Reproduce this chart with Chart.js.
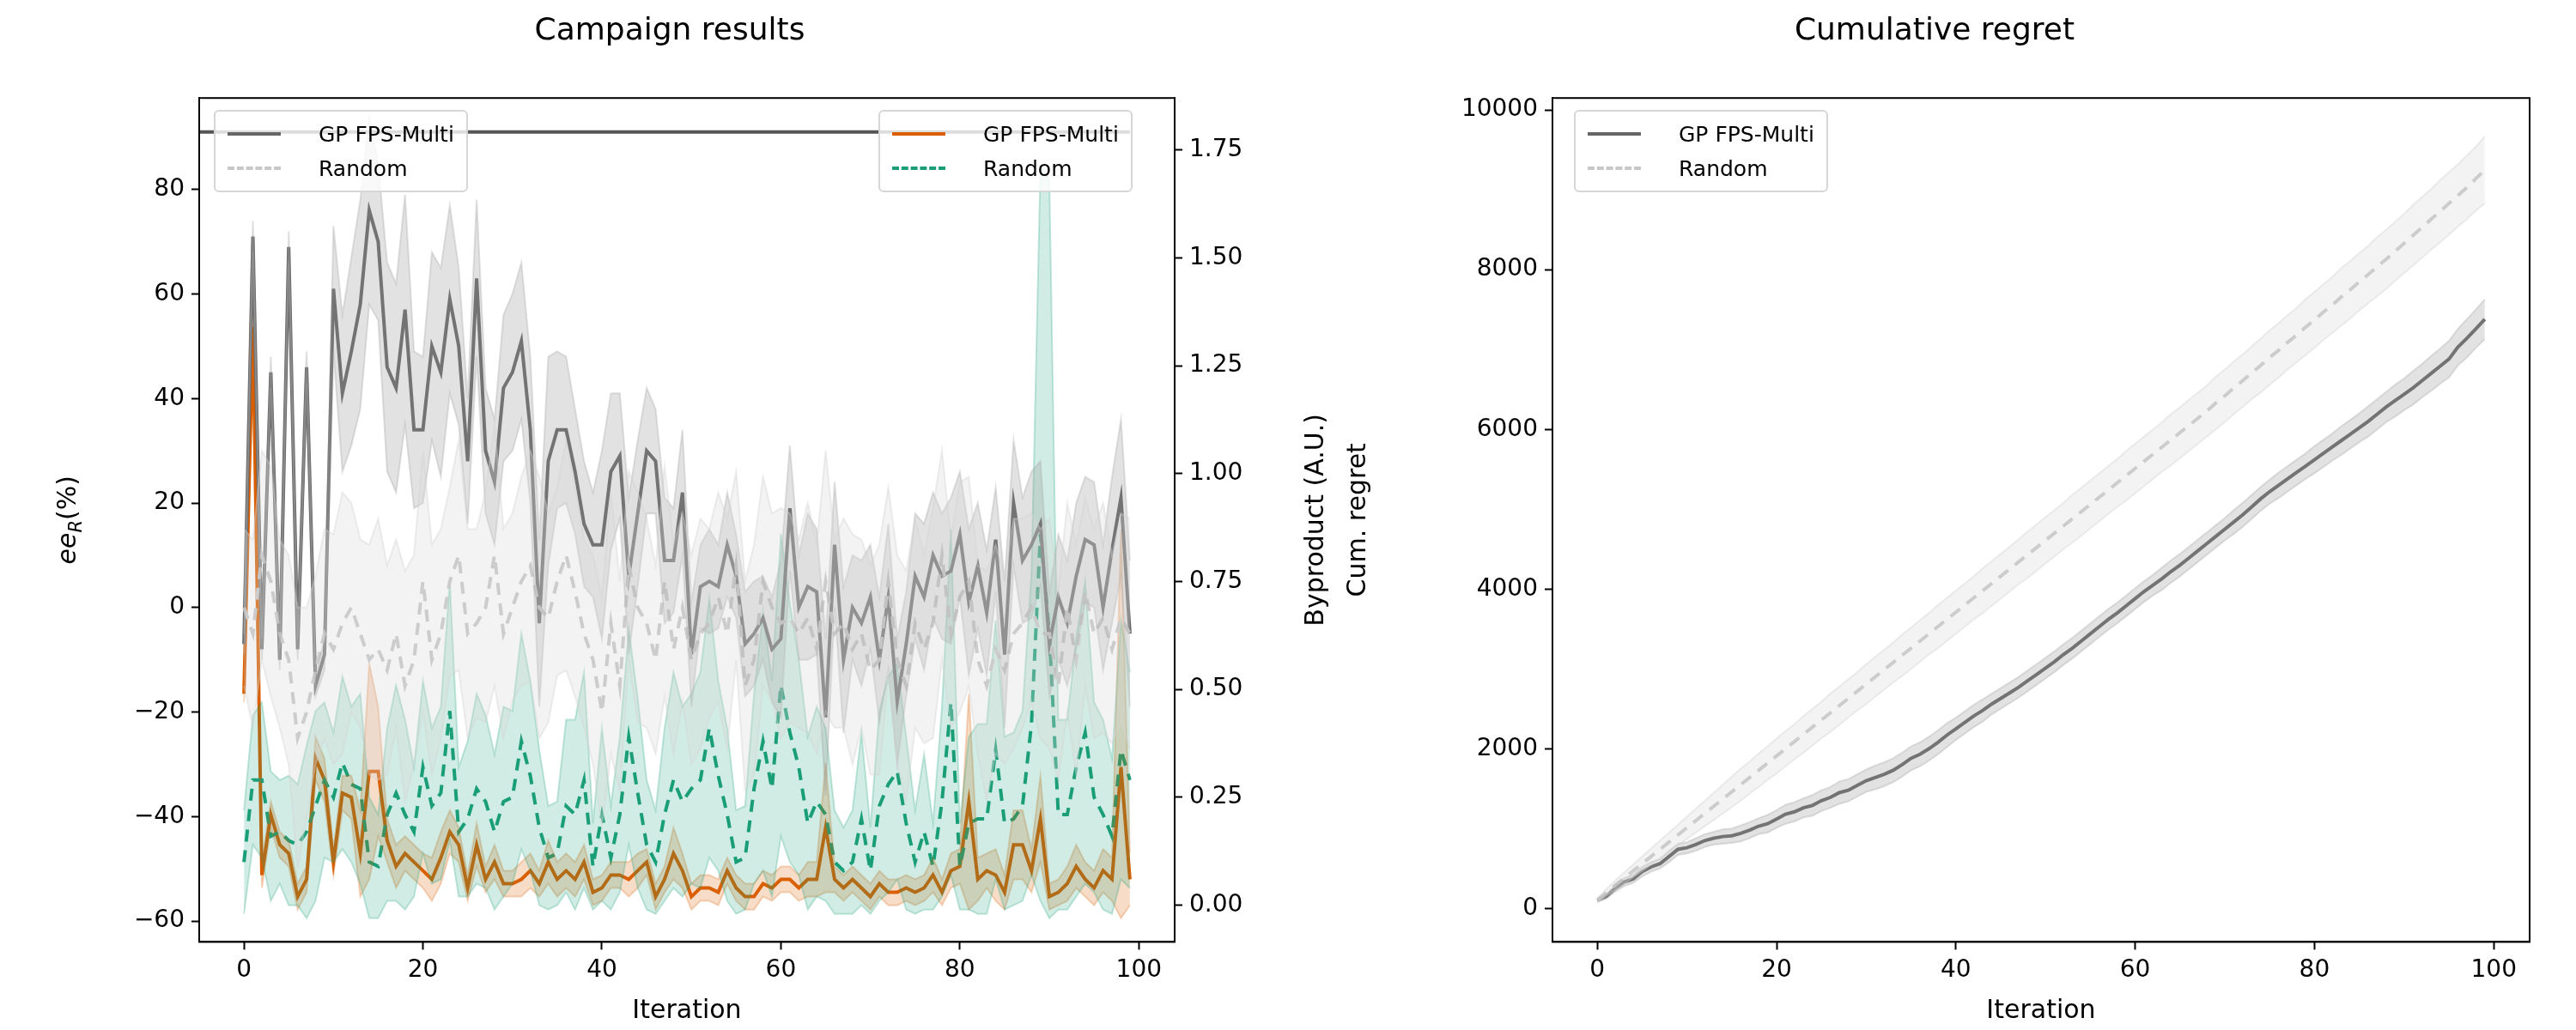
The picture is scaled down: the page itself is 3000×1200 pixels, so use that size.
<!DOCTYPE html>
<html lang="en">
<head>
<meta charset="UTF-8">
<title>Campaign results</title>
<script src="https://cdn.jsdelivr.net/npm/chart.js@4.4.1/dist/chart.umd.min.js"></script>
<style>
  body { margin: 0; background: #fff; font-family: "DejaVu Sans", sans-serif; }
  .wrap { position: relative; width: 3000px; height: 1200px; }
  .box { position: absolute; top: 0; height: 1200px; }
  .box canvas { display: block; }
  .legend {
    position: absolute; background: rgba(255,255,255,0.8); border: 2px solid #d6d6d6;
    border-radius: 6px; padding: 6px 14px; font-size: 25px; color: #000; z-index: 5;
  }
  .legend div { display: flex; align-items: center; height: 40px; }
  .legend span.h { display: inline-block; width: 62px; margin-right: 44px; border-top: 4px solid; }
</style>
</head>
<body>
<div class="wrap">
  <div class="box" style="left:0;width:1560px"><canvas id="campaign" width="1560" height="1200" style="width:1560px;height:1200px"></canvas></div>
  <div class="box" style="left:1560px;width:1440px"><canvas id="regret" width="1440" height="1200" style="width:1440px;height:1200px"></canvas></div>

  <div class="legend" style="left:249px;top:128px">
    <div><span class="h" style="border-color:#666"></span>GP FPS-Multi</div>
    <div><span class="h" style="border-color:#c8c8c8;border-top-style:dashed"></span>Random</div>
  </div>
  <div class="legend" style="left:1023px;top:128px">
    <div><span class="h" style="border-color:#d95f02"></span>GP FPS-Multi</div>
    <div><span class="h" style="border-color:#1b9e77;border-top-style:dashed"></span>Random</div>
  </div>
  <div class="legend" style="left:1833px;top:128px">
    <div><span class="h" style="border-color:#666"></span>GP FPS-Multi</div>
    <div><span class="h" style="border-color:#c8c8c8;border-top-style:dashed"></span>Random</div>
  </div>
</div>
<script>
// ee_R (%) per iteration, left axis
const eeGp = [-7,71,-8,45,-10,69,-8,46,-15,-9, 61,41,49,58,76,70,46,42,57,34,
  34,50,45,59,50,28,63,30,24,42, 45,51,34,-3,28,34,34,26,16,12,
  12,26,29,6,18,30,28,9,9,22, -9,4,5,4,12,6,-7,-5,-2,-8,
  -6,19,0,4,3,-21,12,-10,0,-3, 2,-10,2,-18,-7,6,2,10,6,7,
  14,1,8,-1,13,-9,20,9,12,16, -7,2,-3,6,13,12,0,11,21,-5];
const eeGpBand = [2,3,2,3,2,3,2,3,2,3, 12,15,18,20,18,15,20,20,22,15,
  14,18,20,18,15,12,15,12,12,14, 15,15,14,16,20,15,14,12,12,10,
  18,15,12,15,14,12,10,12,10,12, 10,8,10,8,10,8,10,10,8,10,
  15,12,10,14,12,15,12,14,10,12, 10,12,14,12,10,12,14,12,12,14,
  12,14,12,12,10,14,12,12,14,12, 10,12,12,14,12,12,12,14,15,14];
const eeRandom = [0,-5,10,5,-5,-10,-25,-20,-12,-5, -8,-3,0,-5,-10,-8,-12,-5,-15,-10,
  5,-10,-5,5,10,-5,-3,0,10,-5, 0,5,8,0,-2,5,10,3,-5,-10,
  -20,-3,-15,8,0,-3,-10,5,-8,0, -10,-5,-3,2,-5,8,-15,-10,5,0,
  -3,-2,-5,-2,-8,5,-5,-3,-8,-5, -12,-10,5,-10,-15,-3,-8,-3,10,-5,
  2,5,-10,-15,-8,-12,-5,-3,0,-5, -5,-15,0,-10,3,-5,-2,-8,-2,-5];
const eeRandomBand = [15,18,20,22,18,20,25,20,18,20, 22,25,20,18,22,25,20,18,22,20,
  25,22,20,18,22,20,18,22,25,20, 18,20,22,25,20,18,22,20,18,20,
  22,25,20,18,22,20,18,22,20,18, 20,22,18,20,22,18,20,22,20,18,
  22,20,18,22,20,25,18,20,22,18, 20,22,18,20,22,20,18,22,20,18,
  22,20,18,22,20,18,22,20,18,20, 22,18,20,22,18,20,22,18,20,22];
// byproduct (A.U.) per iteration, right axis
const byGp = [0.49,1.34,0.07,0.21,0.14,0.12,0.02,0.06,0.34,0.29, 0.10,0.26,0.25,0.12,0.31,0.31,0.15,0.09,0.12,0.10,
  0.08,0.06,0.11,0.17,0.14,0.04,0.14,0.06,0.10,0.05, 0.05,0.06,0.08,0.05,0.10,0.06,0.08,0.06,0.10,0.03,
  0.04,0.07,0.07,0.06,0.08,0.10,0.02,0.06,0.12,0.08, 0.02,0.04,0.04,0.03,0.08,0.04,0.02,0.02,0.05,0.04,
  0.06,0.06,0.04,0.06,0.06,0.18,0.06,0.04,0.06,0.04, 0.02,0.05,0.03,0.03,0.04,0.03,0.04,0.07,0.03,0.08,
  0.09,0.24,0.06,0.08,0.07,0.03,0.14,0.14,0.08,0.20, 0.02,0.03,0.05,0.09,0.06,0.04,0.08,0.06,0.32,0.06];
const byGpBand = [0.02,0.05,0.03,0.03,0.03,0.03,0.03,0.03,0.05,0.05, 0.03,0.04,0.05,0.10,0.25,0.15,0.05,0.05,0.04,0.04,
  0.04,0.05,0.06,0.05,0.04,0.03,0.05,0.03,0.04,0.03, 0.03,0.04,0.04,0.03,0.05,0.04,0.04,0.04,0.04,0.03,
  0.03,0.03,0.03,0.04,0.04,0.03,0.03,0.03,0.06,0.04, 0.03,0.03,0.03,0.03,0.03,0.03,0.03,0.03,0.03,0.03,
  0.03,0.03,0.03,0.04,0.04,0.15,0.03,0.03,0.03,0.03, 0.03,0.03,0.03,0.03,0.03,0.03,0.03,0.04,0.03,0.04,
  0.04,0.25,0.05,0.04,0.06,0.04,0.08,0.08,0.05,0.10, 0.03,0.03,0.04,0.05,0.04,0.04,0.05,0.05,0.55,0.06];
const byRandom = [0.10,0.29,0.29,0.16,0.17,0.15,0.14,0.17,0.23,0.29, 0.25,0.33,0.28,0.27,0.10,0.09,0.21,0.26,0.21,0.17,
  0.32,0.23,0.26,0.45,0.17,0.20,0.27,0.24,0.17,0.24, 0.25,0.38,0.30,0.18,0.11,0.12,0.23,0.21,0.29,0.09,
  0.21,0.11,0.21,0.39,0.26,0.14,0.10,0.21,0.29,0.24, 0.27,0.29,0.41,0.30,0.21,0.10,0.11,0.27,0.38,0.27,
  0.51,0.40,0.32,0.19,0.24,0.21,0.10,0.08,0.10,0.20, 0.08,0.23,0.28,0.31,0.19,0.10,0.17,0.09,0.24,0.47,
  0.09,0.19,0.20,0.20,0.36,0.19,0.20,0.23,0.42,0.86, 0.63,0.21,0.21,0.32,0.40,0.25,0.21,0.16,0.36,0.29];
const byRandomBand = [0.12,0.15,0.18,0.15,0.12,0.15,0.14,0.20,0.22,0.18, 0.15,0.20,0.18,0.22,0.15,0.12,0.20,0.25,0.22,0.15,
  0.20,0.18,0.20,0.30,0.15,0.18,0.22,0.20,0.18,0.22, 0.20,0.25,0.22,0.18,0.12,0.12,0.20,0.22,0.25,0.10,
  0.20,0.12,0.18,0.25,0.22,0.15,0.12,0.20,0.25,0.22, 0.22,0.25,0.30,0.22,0.20,0.12,0.12,0.22,0.30,0.25,
  0.35,0.30,0.25,0.20,0.22,0.20,0.12,0.10,0.12,0.20, 0.10,0.22,0.25,0.25,0.20,0.12,0.18,0.10,0.22,0.40,
  0.10,0.20,0.22,0.22,0.30,0.20,0.20,0.22,0.35,0.85, 1.05,0.22,0.22,0.30,0.35,0.22,0.22,0.18,0.30,0.25];
// cumulative regret
const cumGp = [100,150,250,330,370,460,520,560,650,740, 760,800,850,880,900,910,940,980,1030,1060,
  1120,1180,1210,1260,1290,1350,1390,1450,1480,1540, 1600,1640,1680,1730,1800,1880,1930,2000,2080,2170,
  2250,2330,2410,2480,2560,2630,2700,2770,2850,2930, 3010,3090,3180,3260,3350,3440,3530,3620,3700,3790,
  3880,3970,4050,4130,4220,4300,4390,4480,4570,4660, 4750,4840,4930,5030,5130,5220,5300,5380,5460,5540,
  5620,5700,5780,5860,5940,6020,6100,6190,6280,6360, 6440,6520,6610,6700,6790,6880,7030,7140,7260,7380];
const cumGpBand = [20,30,40,50,50,60,60,60,70,70, 70,80,80,80,90,90,100,100,100,110,
  110,120,120,120,130,130,130,140,140,140, 140,150,150,150,150,150,150,150,150,150,
  140,140,140,140,130,130,130,130,130,130, 130,130,130,130,130,130,130,130,130,130,
  130,130,130,140,140,140,140,140,140,140, 140,150,150,150,150,150,160,160,160,160,
  170,170,170,180,180,180,190,190,190,200, 200,210,210,220,220,230,230,240,240,250];
const cumRandom = [100,200,290,380,470,560,650,740,830,920, 1010,1100,1190,1280,1370,1460,1550,1640,1730,1820,
  1910,2000,2090,2180,2270,2360,2450,2540,2630,2720, 2810,2900,2990,3080,3170,3260,3350,3440,3530,3620,
  3710,3800,3890,3980,4070,4160,4250,4340,4430,4520, 4610,4700,4790,4880,4970,5060,5150,5240,5330,5420,
  5510,5600,5690,5780,5870,5960,6050,6140,6230,6330, 6420,6520,6610,6710,6800,6900,6990,7090,7180,7280,
  7370,7470,7560,7660,7750,7850,7940,8040,8130,8230, 8330,8430,8530,8630,8730,8830,8930,9030,9140,9250];
const cumRandomBand = [30,40,60,70,80,90,100,110,120,130, 140,150,160,170,180,190,200,200,210,210,
  220,220,220,230,230,230,240,240,240,240, 250,250,250,250,260,260,260,260,270,270,
  270,270,270,280,280,280,280,280,290,290, 290,290,290,300,300,300,300,300,300,310,
  310,310,310,310,320,320,320,320,320,330, 330,330,330,330,340,340,340,340,340,350,
  350,350,350,360,360,360,360,370,370,370, 370,380,380,380,390,390,390,400,400,420];
const iterations = eeGp.map((_, i) => i);
const xTicks = [0, 20, 40, 60, 80, 100];
const leftTicks = [-60, -40, -20, 0, 20, 40, 60, 80];
const rightTicks = [0, 0.25, 0.5, 0.75, 1.0, 1.25, 1.5, 1.75];
const regretTicks = [0, 2000, 4000, 6000, 8000, 10000];

const FONT = 'DejaVu Sans';
const fmtMinus = v => String(v).replace('-', '\u2212');

function pts(vals, off, sign, floor) {
  return vals.map((v, i) => {
    let y = off ? v + sign * off[i] : v;
    if (floor !== undefined && y < floor) y = floor;
    return { x: iterations[i], y: y };
  });
}
function band(vals, w, color, axis, floor) {
  return [
    { data: pts(vals, w, 1), yAxisID: axis, borderColor: color.line, borderWidth: 2, backgroundColor: color.fill, fill: '+1', pointRadius: 0, tension: 0 },
    { data: pts(vals, w, -1, floor), yAxisID: axis, borderColor: color.line, borderWidth: 2, backgroundColor: 'transparent', fill: false, pointRadius: 0, tension: 0 }
  ];
}
function line(vals, color, axis, dash) {
  return { data: pts(vals), yAxisID: axis, borderColor: color, borderWidth: 4, borderDash: dash || [], fill: false, pointRadius: 0, tension: 0 };
}
function fixTicks(list) {
  return scale => { scale.ticks = list.map(v => ({ value: v })); };
}
function axisStyle(extra) {
  return Object.assign({
    type: 'linear',
    grid: { drawOnChartArea: false, drawTicks: true, tickLength: 9, tickWidth: 2, color: '#000' },
    border: { display: true, color: '#000', width: 2 },
    ticks: { color: '#000', font: { family: FONT, size: 28 }, padding: 8, callback: v => fmtMinus(v) }
  }, extra);
}
const frame = {
  id: 'frame',
  afterDraw(c) {
    const a = c.chartArea, ctx = c.ctx;
    ctx.save(); ctx.strokeStyle = '#000'; ctx.lineWidth = 2;
    ctx.strokeRect(a.left, a.top, a.right - a.left, a.bottom - a.top);
    ctx.restore();
  }
};
// rotated axis titles drawn bottom-to-top, like the reference
const axisTitles = {
  id: 'axisTitles',
  afterDraw(c) {
    const ctx = c.ctx, a = c.chartArea;
    const midY = (a.top + a.bottom) / 2;
    ctx.save();
    ctx.translate(78, midY);
    ctx.rotate(-Math.PI / 2);
    ctx.fillStyle = '#000'; ctx.textBaseline = 'alphabetic';
    ctx.font = 'italic 30px ' + FONT;
    const w1 = ctx.measureText('ee').width;
    ctx.font = 'italic 21px ' + FONT;
    const w2 = ctx.measureText('R').width;
    ctx.font = '30px ' + FONT;
    const w3 = ctx.measureText('(%)').width;
    let x = -(w1 + w2 + w3) / 2;
    ctx.font = 'italic 30px ' + FONT; ctx.fillText('ee', x, 10); x += w1;
    ctx.font = 'italic 21px ' + FONT; ctx.fillText('R', x, 17); x += w2;
    ctx.font = '30px ' + FONT; ctx.fillText('(%)', x, 10);
    ctx.restore();

    ctx.save();
    ctx.translate(a.right + 165, midY);
    ctx.rotate(-Math.PI / 2);
    ctx.fillStyle = '#000'; ctx.textAlign = 'center'; ctx.textBaseline = 'middle';
    ctx.font = '30px ' + FONT;
    ctx.fillText('Byproduct (A.U.)', 0, 0);
    ctx.restore();
  }
};
function setWidth(w) { return s => { s.width = w; }; }

const grayFill = { line: 'rgba(170,170,170,0.35)', fill: 'rgba(150,150,150,0.28)' };
const lightFill = { line: 'rgba(210,210,210,0.4)', fill: 'rgba(215,215,215,0.3)' };
const orangeFill = { line: 'rgba(217,95,2,0.25)', fill: 'rgba(217,95,2,0.22)' };
const greenFill = { line: 'rgba(27,158,119,0.25)', fill: 'rgba(27,158,119,0.2)' };
const dash = [14, 10];

new Chart(document.getElementById('campaign'), {
  type: 'line',
  data: {
    datasets: [
      ...band(eeRandom, eeRandomBand, lightFill, 'yL'),
      ...band(eeGp, eeGpBand, grayFill, 'yL'),
      line(eeRandom, '#c8c8c8', 'yL', dash),
      line(eeGp, '#666666', 'yL'),
      { data: [{ x: -5, y: 91 }, { x: 99, y: 91 }], yAxisID: 'yL', borderColor: '#555', borderWidth: 4, pointRadius: 0, fill: false },
      ...band(byRandom, byRandomBand, greenFill, 'yR', -0.03),
      ...band(byGp, byGpBand, orangeFill, 'yR', -0.03),
      line(byRandom, '#1b9e77', 'yR', dash),
      line(byGp, '#d95f02', 'yR')
    ]
  },
  options: {
    responsive: false, animation: false, devicePixelRatio: 1,
    layout: { padding: { top: 105, bottom: 0, left: 0, right: 0 } },
    plugins: {
      legend: { display: false }, tooltip: { enabled: false },
      title: { display: true, text: 'Campaign results', color: '#000', font: { family: FONT, size: 36, weight: 'normal' }, padding: { top: -90, bottom: 56 } }
    },
    scales: {
      x: axisStyle({ min: -5, max: 104, afterBuildTicks: fixTicks(xTicks),
        title: { display: true, text: 'Iteration', color: '#000', font: { family: FONT, size: 30 } } }),
      yL: axisStyle({ position: 'left', min: -64, max: 97.5, afterBuildTicks: fixTicks(leftTicks), afterFit: setWidth(232) }),
      yR: axisStyle({ position: 'right', min: -0.085, max: 1.87, afterBuildTicks: fixTicks(rightTicks), afterFit: setWidth(192),
        ticks: { color: '#000', font: { family: FONT, size: 28 }, padding: 8, callback: v => v.toFixed(2) } })
    }
  },
  plugins: [frame, axisTitles]
});

new Chart(document.getElementById('regret'), {
  type: 'line',
  data: {
    datasets: [
      ...band(cumRandom, cumRandomBand, lightFill, 'y'),
      ...band(cumGp, cumGpBand, grayFill, 'y'),
      line(cumRandom, '#c8c8c8', 'y', dash),
      line(cumGp, '#666666', 'y')
    ]
  },
  options: {
    responsive: false, animation: false, devicePixelRatio: 1,
    layout: { padding: { top: 105, bottom: 0, left: 0, right: 54 } },
    plugins: {
      legend: { display: false }, tooltip: { enabled: false },
      title: { display: true, text: 'Cumulative regret', color: '#000', font: { family: FONT, size: 36, weight: 'normal' }, padding: { top: -90, bottom: 56 } }
    },
    scales: {
      x: axisStyle({ min: -5, max: 104, afterBuildTicks: fixTicks(xTicks),
        title: { display: true, text: 'Iteration', color: '#000', font: { family: FONT, size: 30 } } }),
      y: axisStyle({ min: -420, max: 10150, afterBuildTicks: fixTicks(regretTicks), afterFit: setWidth(248),
        ticks: { color: '#000', font: { family: FONT, size: 28 }, padding: 8, callback: v => String(v) },
        title: { display: true, text: 'Cum. regret', color: '#000', font: { family: FONT, size: 30 }, padding: { bottom: 14 } } })
    }
  },
  plugins: [frame]
});
</script>
</body>
</html>
